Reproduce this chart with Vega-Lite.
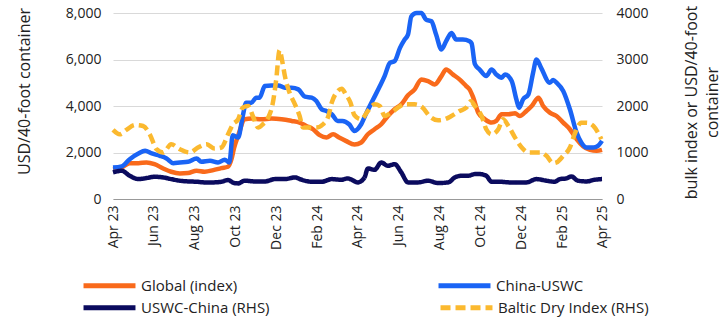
{
  "$schema": "https://vega.github.io/schema/vega-lite/v6.json",
  "width": 489,
  "height": 186,
  "autosize": {"type": "none"},
  "padding": {"left": 113, "top": 13, "right": 126, "bottom": 129},
  "background": "white",
  "config": {
    "font": "Open Sans",
    "view": {"stroke": null},
    "axis": {"labelFont": "Open Sans", "titleFont": "Open Sans", "labelColor": "#222", "titleColor": "#222", "titleFontWeight": "normal"},
    "legend": {"labelFont": "Open Sans"}
  },
  "datasets": {
    "left": [
      {"date":"2023-04-01","series":"Global (index)","value":1280},{"date":"2023-04-14","series":"Global (index)","value":1357},{"date":"2023-04-26","series":"Global (index)","value":1543},{"date":"2023-05-09","series":"Global (index)","value":1543},{"date":"2023-05-21","series":"Global (index)","value":1572},{"date":"2023-06-02","series":"Global (index)","value":1500},{"date":"2023-06-15","series":"Global (index)","value":1315},{"date":"2023-06-27","series":"Global (index)","value":1172},{"date":"2023-07-10","series":"Global (index)","value":1100},{"date":"2023-07-22","series":"Global (index)","value":1115},{"date":"2023-08-04","series":"Global (index)","value":1215},{"date":"2023-08-16","series":"Global (index)","value":1172},{"date":"2023-08-29","series":"Global (index)","value":1243},{"date":"2023-09-10","series":"Global (index)","value":1329},{"date":"2023-09-20","series":"Global (index)","value":1386},{"date":"2023-09-25","series":"Global (index)","value":1700},{"date":"2023-09-29","series":"Global (index)","value":2200},{"date":"2023-10-05","series":"Global (index)","value":2715},{"date":"2023-10-15","series":"Global (index)","value":3430},{"date":"2023-10-25","series":"Global (index)","value":3458},{"date":"2023-11-09","series":"Global (index)","value":3430},{"date":"2023-11-24","series":"Global (index)","value":3458},{"date":"2023-12-09","series":"Global (index)","value":3430},{"date":"2023-12-24","series":"Global (index)","value":3358},{"date":"2024-01-05","series":"Global (index)","value":3286},{"date":"2024-01-15","series":"Global (index)","value":3144},{"date":"2024-01-25","series":"Global (index)","value":3000},{"date":"2024-02-04","series":"Global (index)","value":2744},{"date":"2024-02-14","series":"Global (index)","value":2644},{"date":"2024-02-24","series":"Global (index)","value":2786},{"date":"2024-03-04","series":"Global (index)","value":2644},{"date":"2024-03-14","series":"Global (index)","value":2500},{"date":"2024-03-27","series":"Global (index)","value":2340},{"date":"2024-04-06","series":"Global (index)","value":2429},{"date":"2024-04-16","series":"Global (index)","value":2786},{"date":"2024-04-26","series":"Global (index)","value":3000},{"date":"2024-05-06","series":"Global (index)","value":3215},{"date":"2024-05-16","series":"Global (index)","value":3572},{"date":"2024-05-26","series":"Global (index)","value":3858},{"date":"2024-06-05","series":"Global (index)","value":4072},{"date":"2024-06-15","series":"Global (index)","value":4458},{"date":"2024-06-25","series":"Global (index)","value":4715},{"date":"2024-07-05","series":"Global (index)","value":5144},{"date":"2024-07-15","series":"Global (index)","value":5072},{"date":"2024-07-25","series":"Global (index)","value":4929},{"date":"2024-08-04","series":"Global (index)","value":5287},{"date":"2024-08-11","series":"Global (index)","value":5572},{"date":"2024-08-21","series":"Global (index)","value":5358},{"date":"2024-08-31","series":"Global (index)","value":5144},{"date":"2024-09-10","series":"Global (index)","value":4858},{"date":"2024-09-15","series":"Global (index)","value":4715},{"date":"2024-09-20","series":"Global (index)","value":4400},{"date":"2024-09-28","series":"Global (index)","value":3715},{"date":"2024-10-08","series":"Global (index)","value":3430},{"date":"2024-10-18","series":"Global (index)","value":3286},{"date":"2024-10-25","series":"Global (index)","value":3358},{"date":"2024-11-02","series":"Global (index)","value":3644},{"date":"2024-11-12","series":"Global (index)","value":3644},{"date":"2024-11-22","series":"Global (index)","value":3687},{"date":"2024-11-29","series":"Global (index)","value":3572},{"date":"2024-12-09","series":"Global (index)","value":3787},{"date":"2024-12-17","series":"Global (index)","value":4001},{"date":"2024-12-27","series":"Global (index)","value":4358},{"date":"2025-01-03","series":"Global (index)","value":4001},{"date":"2025-01-13","series":"Global (index)","value":3715},{"date":"2025-01-23","series":"Global (index)","value":3572},{"date":"2025-02-02","series":"Global (index)","value":3286},{"date":"2025-02-12","series":"Global (index)","value":3000},{"date":"2025-02-22","series":"Global (index)","value":2572},{"date":"2025-03-04","series":"Global (index)","value":2258},{"date":"2025-03-14","series":"Global (index)","value":2115},{"date":"2025-03-24","series":"Global (index)","value":2072},{"date":"2025-04-01","series":"Global (index)","value":2115},
      {"date":"2023-04-01","series":"China-USWC","value":1350},{"date":"2023-04-14","series":"China-USWC","value":1400},{"date":"2023-04-26","series":"China-USWC","value":1714},{"date":"2023-05-09","series":"China-USWC","value":1958},{"date":"2023-05-19","series":"China-USWC","value":2072},{"date":"2023-05-29","series":"China-USWC","value":1958},{"date":"2023-06-10","series":"China-USWC","value":1857},{"date":"2023-06-20","series":"China-USWC","value":1743},{"date":"2023-06-30","series":"China-USWC","value":1543},{"date":"2023-07-10","series":"China-USWC","value":1572},{"date":"2023-07-22","series":"China-USWC","value":1600},{"date":"2023-08-04","series":"China-USWC","value":1743},{"date":"2023-08-11","series":"China-USWC","value":1600},{"date":"2023-08-24","series":"China-USWC","value":1643},{"date":"2023-09-05","series":"China-USWC","value":1572},{"date":"2023-09-15","series":"China-USWC","value":1686},{"date":"2023-09-22","series":"China-USWC","value":1572},{"date":"2023-09-27","series":"China-USWC","value":2744},{"date":"2023-10-05","series":"China-USWC","value":2644},{"date":"2023-10-12","series":"China-USWC","value":3572},{"date":"2023-10-17","series":"China-USWC","value":4144},{"date":"2023-10-25","series":"China-USWC","value":4144},{"date":"2023-11-01","series":"China-USWC","value":4358},{"date":"2023-11-06","series":"China-USWC","value":4358},{"date":"2023-11-14","series":"China-USWC","value":4858},{"date":"2023-11-24","series":"China-USWC","value":4887},{"date":"2023-12-04","series":"China-USWC","value":4887},{"date":"2023-12-14","series":"China-USWC","value":4787},{"date":"2023-12-24","series":"China-USWC","value":4787},{"date":"2024-01-03","series":"China-USWC","value":4715},{"date":"2024-01-13","series":"China-USWC","value":4401},{"date":"2024-01-23","series":"China-USWC","value":4358},{"date":"2024-01-30","series":"China-USWC","value":4215},{"date":"2024-02-07","series":"China-USWC","value":3858},{"date":"2024-02-14","series":"China-USWC","value":3787},{"date":"2024-02-22","series":"China-USWC","value":3644},{"date":"2024-03-02","series":"China-USWC","value":3358},{"date":"2024-03-09","series":"China-USWC","value":3358},{"date":"2024-03-19","series":"China-USWC","value":3215},{"date":"2024-03-27","series":"China-USWC","value":2929},{"date":"2024-04-06","series":"China-USWC","value":3215},{"date":"2024-04-14","series":"China-USWC","value":3715},{"date":"2024-04-24","series":"China-USWC","value":4287},{"date":"2024-05-04","series":"China-USWC","value":4858},{"date":"2024-05-11","series":"China-USWC","value":5287},{"date":"2024-05-19","series":"China-USWC","value":5858},{"date":"2024-05-26","series":"China-USWC","value":5929},{"date":"2024-06-03","series":"China-USWC","value":6501},{"date":"2024-06-10","series":"China-USWC","value":6858},{"date":"2024-06-15","series":"China-USWC","value":7073},{"date":"2024-06-20","series":"China-USWC","value":7858},{"date":"2024-06-28","series":"China-USWC","value":8000},{"date":"2024-07-05","series":"China-USWC","value":8000},{"date":"2024-07-12","series":"China-USWC","value":7716},{"date":"2024-07-20","series":"China-USWC","value":7644},{"date":"2024-07-27","series":"China-USWC","value":7073},{"date":"2024-08-04","series":"China-USWC","value":6430},{"date":"2024-08-11","series":"China-USWC","value":6787},{"date":"2024-08-19","series":"China-USWC","value":7144},{"date":"2024-08-26","series":"China-USWC","value":6858},{"date":"2024-09-05","series":"China-USWC","value":6858},{"date":"2024-09-15","series":"China-USWC","value":6787},{"date":"2024-09-18","series":"China-USWC","value":6700},{"date":"2024-09-23","series":"China-USWC","value":5800},{"date":"2024-09-30","series":"China-USWC","value":5572},{"date":"2024-10-10","series":"China-USWC","value":5287},{"date":"2024-10-18","series":"China-USWC","value":5572},{"date":"2024-10-25","series":"China-USWC","value":5358},{"date":"2024-11-02","series":"China-USWC","value":5215},{"date":"2024-11-07","series":"China-USWC","value":5358},{"date":"2024-11-17","series":"China-USWC","value":5072},{"date":"2024-11-24","series":"China-USWC","value":4287},{"date":"2024-11-28","series":"China-USWC","value":3929},{"date":"2024-12-04","series":"China-USWC","value":4287},{"date":"2024-12-12","series":"China-USWC","value":4501},{"date":"2024-12-19","series":"China-USWC","value":5430},{"date":"2024-12-24","series":"China-USWC","value":6001},{"date":"2024-12-31","series":"China-USWC","value":5644},{"date":"2025-01-13","series":"China-USWC","value":5001},{"date":"2025-01-18","series":"China-USWC","value":5116},{"date":"2025-01-23","series":"China-USWC","value":5001},{"date":"2025-02-02","series":"China-USWC","value":4644},{"date":"2025-02-12","series":"China-USWC","value":3858},{"date":"2025-02-22","series":"China-USWC","value":2858},{"date":"2025-03-01","series":"China-USWC","value":2429},{"date":"2025-03-09","series":"China-USWC","value":2215},{"date":"2025-03-19","series":"China-USWC","value":2215},{"date":"2025-03-26","series":"China-USWC","value":2286},{"date":"2025-04-01","series":"China-USWC","value":2500}
    ],
    "right": [
      {"date":"2023-04-01","series":"USWC-China (RHS)","value":571},{"date":"2023-04-14","series":"USWC-China (RHS)","value":607},{"date":"2023-04-26","series":"USWC-China (RHS)","value":500},{"date":"2023-05-09","series":"USWC-China (RHS)","value":428},{"date":"2023-05-21","series":"USWC-China (RHS)","value":450},{"date":"2023-06-02","series":"USWC-China (RHS)","value":478},{"date":"2023-06-15","series":"USWC-China (RHS)","value":464},{"date":"2023-06-27","series":"USWC-China (RHS)","value":428},{"date":"2023-07-10","series":"USWC-China (RHS)","value":393},{"date":"2023-07-22","series":"USWC-China (RHS)","value":378},{"date":"2023-08-04","series":"USWC-China (RHS)","value":371},{"date":"2023-08-16","series":"USWC-China (RHS)","value":357},{"date":"2023-08-29","series":"USWC-China (RHS)","value":357},{"date":"2023-09-10","series":"USWC-China (RHS)","value":371},{"date":"2023-09-20","series":"USWC-China (RHS)","value":407},{"date":"2023-09-29","series":"USWC-China (RHS)","value":343},{"date":"2023-10-05","series":"USWC-China (RHS)","value":336},{"date":"2023-10-15","series":"USWC-China (RHS)","value":393},{"date":"2023-10-30","series":"USWC-China (RHS)","value":378},{"date":"2023-11-14","series":"USWC-China (RHS)","value":378},{"date":"2023-11-29","series":"USWC-China (RHS)","value":428},{"date":"2023-12-14","series":"USWC-China (RHS)","value":428},{"date":"2023-12-29","series":"USWC-China (RHS)","value":464},{"date":"2024-01-08","series":"USWC-China (RHS)","value":414},{"date":"2024-01-23","series":"USWC-China (RHS)","value":371},{"date":"2024-02-07","series":"USWC-China (RHS)","value":371},{"date":"2024-02-22","series":"USWC-China (RHS)","value":428},{"date":"2024-03-07","series":"USWC-China (RHS)","value":414},{"date":"2024-03-17","series":"USWC-China (RHS)","value":443},{"date":"2024-03-22","series":"USWC-China (RHS)","value":420},{"date":"2024-04-01","series":"USWC-China (RHS)","value":357},{"date":"2024-04-11","series":"USWC-China (RHS)","value":464},{"date":"2024-04-16","series":"USWC-China (RHS)","value":657},{"date":"2024-04-26","series":"USWC-China (RHS)","value":628},{"date":"2024-05-06","series":"USWC-China (RHS)","value":785},{"date":"2024-05-16","series":"USWC-China (RHS)","value":714},{"date":"2024-05-26","series":"USWC-China (RHS)","value":750},{"date":"2024-06-05","series":"USWC-China (RHS)","value":571},{"date":"2024-06-15","series":"USWC-China (RHS)","value":357},{"date":"2024-06-30","series":"USWC-China (RHS)","value":357},{"date":"2024-07-15","series":"USWC-China (RHS)","value":393},{"date":"2024-07-30","series":"USWC-China (RHS)","value":343},{"date":"2024-08-14","series":"USWC-China (RHS)","value":357},{"date":"2024-08-24","series":"USWC-China (RHS)","value":464},{"date":"2024-09-03","series":"USWC-China (RHS)","value":500},{"date":"2024-09-13","series":"USWC-China (RHS)","value":500},{"date":"2024-09-23","series":"USWC-China (RHS)","value":536},{"date":"2024-09-30","series":"USWC-China (RHS)","value":536},{"date":"2024-10-10","series":"USWC-China (RHS)","value":500},{"date":"2024-10-18","series":"USWC-China (RHS)","value":371},{"date":"2024-10-30","series":"USWC-China (RHS)","value":371},{"date":"2024-11-14","series":"USWC-China (RHS)","value":357},{"date":"2024-11-29","series":"USWC-China (RHS)","value":357},{"date":"2024-12-09","series":"USWC-China (RHS)","value":357},{"date":"2024-12-24","series":"USWC-China (RHS)","value":428},{"date":"2025-01-08","series":"USWC-China (RHS)","value":393},{"date":"2025-01-20","series":"USWC-China (RHS)","value":371},{"date":"2025-01-28","series":"USWC-China (RHS)","value":428},{"date":"2025-02-07","series":"USWC-China (RHS)","value":443},{"date":"2025-02-14","series":"USWC-China (RHS)","value":486},{"date":"2025-02-24","series":"USWC-China (RHS)","value":393},{"date":"2025-03-09","series":"USWC-China (RHS)","value":378},{"date":"2025-03-21","series":"USWC-China (RHS)","value":414},{"date":"2025-04-01","series":"USWC-China (RHS)","value":428},
      {"date":"2023-04-01","series":"Baltic Dry Index (RHS)","value":1485},{"date":"2023-04-11","series":"Baltic Dry Index (RHS)","value":1392},{"date":"2023-04-21","series":"Baltic Dry Index (RHS)","value":1485},{"date":"2023-05-04","series":"Baltic Dry Index (RHS)","value":1592},{"date":"2023-05-16","series":"Baltic Dry Index (RHS)","value":1571},{"date":"2023-05-26","series":"Baltic Dry Index (RHS)","value":1392},{"date":"2023-06-05","series":"Baltic Dry Index (RHS)","value":1071},{"date":"2023-06-15","series":"Baltic Dry Index (RHS)","value":1000},{"date":"2023-06-27","series":"Baltic Dry Index (RHS)","value":1178},{"date":"2023-07-10","series":"Baltic Dry Index (RHS)","value":1071},{"date":"2023-07-25","series":"Baltic Dry Index (RHS)","value":1000},{"date":"2023-08-06","series":"Baltic Dry Index (RHS)","value":1107},{"date":"2023-08-19","series":"Baltic Dry Index (RHS)","value":1178},{"date":"2023-08-31","series":"Baltic Dry Index (RHS)","value":1085},{"date":"2023-09-10","series":"Baltic Dry Index (RHS)","value":1107},{"date":"2023-09-20","series":"Baltic Dry Index (RHS)","value":1392},{"date":"2023-09-27","series":"Baltic Dry Index (RHS)","value":1600},{"date":"2023-10-05","series":"Baltic Dry Index (RHS)","value":1714},{"date":"2023-10-12","series":"Baltic Dry Index (RHS)","value":1964},{"date":"2023-10-20","series":"Baltic Dry Index (RHS)","value":1999},{"date":"2023-10-27","series":"Baltic Dry Index (RHS)","value":1785},{"date":"2023-11-04","series":"Baltic Dry Index (RHS)","value":1535},{"date":"2023-11-11","series":"Baltic Dry Index (RHS)","value":1607},{"date":"2023-11-19","series":"Baltic Dry Index (RHS)","value":1749},{"date":"2023-11-26","series":"Baltic Dry Index (RHS)","value":2071},{"date":"2023-12-01","series":"Baltic Dry Index (RHS)","value":2571},{"date":"2023-12-06","series":"Baltic Dry Index (RHS)","value":3200},{"date":"2023-12-10","series":"Baltic Dry Index (RHS)","value":2963},{"date":"2023-12-14","series":"Baltic Dry Index (RHS)","value":2642},{"date":"2023-12-21","series":"Baltic Dry Index (RHS)","value":2285},{"date":"2023-12-29","series":"Baltic Dry Index (RHS)","value":2035},{"date":"2024-01-05","series":"Baltic Dry Index (RHS)","value":1785},{"date":"2024-01-10","series":"Baltic Dry Index (RHS)","value":1535},{"date":"2024-01-20","series":"Baltic Dry Index (RHS)","value":1535},{"date":"2024-01-30","series":"Baltic Dry Index (RHS)","value":1535},{"date":"2024-02-09","series":"Baltic Dry Index (RHS)","value":1607},{"date":"2024-02-17","series":"Baltic Dry Index (RHS)","value":1785},{"date":"2024-02-22","series":"Baltic Dry Index (RHS)","value":2071},{"date":"2024-03-02","series":"Baltic Dry Index (RHS)","value":2321},{"date":"2024-03-08","series":"Baltic Dry Index (RHS)","value":2370},{"date":"2024-03-14","series":"Baltic Dry Index (RHS)","value":2250},{"date":"2024-03-21","series":"Baltic Dry Index (RHS)","value":2071},{"date":"2024-03-27","series":"Baltic Dry Index (RHS)","value":1800},{"date":"2024-04-06","series":"Baltic Dry Index (RHS)","value":1714},{"date":"2024-04-16","series":"Baltic Dry Index (RHS)","value":1892},{"date":"2024-04-26","series":"Baltic Dry Index (RHS)","value":2035},{"date":"2024-05-04","series":"Baltic Dry Index (RHS)","value":1999},{"date":"2024-05-11","series":"Baltic Dry Index (RHS)","value":1785},{"date":"2024-05-21","series":"Baltic Dry Index (RHS)","value":1857},{"date":"2024-05-31","series":"Baltic Dry Index (RHS)","value":1964},{"date":"2024-06-10","series":"Baltic Dry Index (RHS)","value":2035},{"date":"2024-06-25","series":"Baltic Dry Index (RHS)","value":2035},{"date":"2024-07-07","series":"Baltic Dry Index (RHS)","value":1964},{"date":"2024-07-17","series":"Baltic Dry Index (RHS)","value":1785},{"date":"2024-07-30","series":"Baltic Dry Index (RHS)","value":1692},{"date":"2024-08-09","series":"Baltic Dry Index (RHS)","value":1714},{"date":"2024-08-19","series":"Baltic Dry Index (RHS)","value":1785},{"date":"2024-08-31","series":"Baltic Dry Index (RHS)","value":1892},{"date":"2024-09-10","series":"Baltic Dry Index (RHS)","value":1964},{"date":"2024-09-17","series":"Baltic Dry Index (RHS)","value":2100},{"date":"2024-09-23","series":"Baltic Dry Index (RHS)","value":1999},{"date":"2024-10-03","series":"Baltic Dry Index (RHS)","value":1785},{"date":"2024-10-10","series":"Baltic Dry Index (RHS)","value":1500},{"date":"2024-10-18","series":"Baltic Dry Index (RHS)","value":1392},{"date":"2024-10-28","series":"Baltic Dry Index (RHS)","value":1500},{"date":"2024-11-04","series":"Baltic Dry Index (RHS)","value":1714},{"date":"2024-11-12","series":"Baltic Dry Index (RHS)","value":1571},{"date":"2024-11-22","series":"Baltic Dry Index (RHS)","value":1321},{"date":"2024-12-02","series":"Baltic Dry Index (RHS)","value":1107},{"date":"2024-12-12","series":"Baltic Dry Index (RHS)","value":1000},{"date":"2024-12-22","series":"Baltic Dry Index (RHS)","value":1000},{"date":"2024-12-31","series":"Baltic Dry Index (RHS)","value":1000},{"date":"2025-01-08","series":"Baltic Dry Index (RHS)","value":928},{"date":"2025-01-18","series":"Baltic Dry Index (RHS)","value":771},{"date":"2025-01-23","series":"Baltic Dry Index (RHS)","value":786},{"date":"2025-02-02","series":"Baltic Dry Index (RHS)","value":928},{"date":"2025-02-12","series":"Baltic Dry Index (RHS)","value":1107},{"date":"2025-02-19","series":"Baltic Dry Index (RHS)","value":1392},{"date":"2025-03-01","series":"Baltic Dry Index (RHS)","value":1642},{"date":"2025-03-09","series":"Baltic Dry Index (RHS)","value":1642},{"date":"2025-03-19","series":"Baltic Dry Index (RHS)","value":1571},{"date":"2025-03-26","series":"Baltic Dry Index (RHS)","value":1428},{"date":"2025-03-31","series":"Baltic Dry Index (RHS)","value":1285}
    ]
  },
  "encoding": {
    "x": {
      "field": "date",
      "type": "temporal",
      "scale": {"type": "utc", "domain": [{"year": 2023, "month": 4, "date": 1, "utc": true}, {"year": 2025, "month": 4, "date": 1, "utc": true}]},
      "axis": {
        "title": null,
        "values": [
          {"year": 2023, "month": 4, "date": 1, "utc": true}, {"year": 2023, "month": 6, "date": 1, "utc": true}, {"year": 2023, "month": 8, "date": 1, "utc": true}, {"year": 2023, "month": 10, "date": 1, "utc": true}, {"year": 2023, "month": 12, "date": 1, "utc": true},
          {"year": 2024, "month": 2, "date": 1, "utc": true}, {"year": 2024, "month": 4, "date": 1, "utc": true}, {"year": 2024, "month": 6, "date": 1, "utc": true}, {"year": 2024, "month": 8, "date": 1, "utc": true}, {"year": 2024, "month": 10, "date": 1, "utc": true}, {"year": 2024, "month": 12, "date": 1, "utc": true},
          {"year": 2025, "month": 2, "date": 1, "utc": true}, {"year": 2025, "month": 4, "date": 1, "utc": true}
        ],
        "labelExpr": "utcFormat(datum.value, '%b %y')",
        "labelAngle": -90,
        "labelFontSize": 14,
        "labelPadding": 6,
        "ticks": false,
        "grid": false,
        "domainColor": "#999999",
        "domainWidth": 1,
        "labelOverlap": false,
        "labelBound": false,
        "labelFlush": false
      }
    }
  },
  "layer": [
    {
      "data": {"name": "left"},
      "mark": {"type": "line", "strokeWidth": 4.5, "interpolate": "monotone"},
      "encoding": {
        "y": {
          "field": "value",
          "type": "quantitative",
          "scale": {"domain": [0, 8000], "nice": false},
          "axis": {
            "title": "USD/40-foot container",
            "titleFontSize": 16,
            "titlePadding": 33,
            "titleY": 78,
            "values": [0, 2000, 4000, 6000, 8000],
            "format": ",.0f",
            "labelFontSize": 14,
            "labelPadding": 12,
            "ticks": false,
            "domain": false,
            "gridColor": "#d9d9d9",
            "gridWidth": 1
          }
        },
        "color": {
          "field": "series",
          "type": "nominal",
          "scale": {"domain": ["Global (index)", "China-USWC"], "range": ["#F96A1B", "#1A64F5"]},
          "legend": {
            "title": null,
            "orient": "none",
            "direction": "horizontal",
            "legendX": -32,
            "legendY": 244,
            "columnPadding": 190,
            "symbolType": "stroke",
            "symbolSize": 2700,
            "symbolStrokeWidth": 5,
            "labelFontSize": 15,
            "labelColor": "#222",
            "labelOffset": 3
          }
        }
      }
    },
    {
      "data": {"name": "right"},
      "mark": {"type": "line", "strokeWidth": 4.5, "interpolate": "monotone"},
      "encoding": {
        "y": {
          "field": "value",
          "type": "quantitative",
          "scale": {"domain": [0, 4000], "nice": false},
          "axis": {
            "orient": "right",
            "title": ["bulk index or USD/40-foot", "container"],
            "titleAngle": -90,
            "titleFontSize": 16,
            "titleLineHeight": 21,
            "titlePadding": 30,
            "titleY": 89,
            "values": [0, 1000, 2000, 3000, 4000],
            "format": "d",
            "labelFontSize": 14,
            "labelPadding": 14,
            "ticks": false,
            "domain": false,
            "grid": false
          }
        },
        "color": {
          "field": "series",
          "type": "nominal",
          "scale": {"domain": ["USWC-China (RHS)", "Baltic Dry Index (RHS)"], "range": ["#0B0B5E", "#FBB92F"]},
          "legend": {
            "title": null,
            "orient": "none",
            "direction": "horizontal",
            "legendX": -32,
            "legendY": 266,
            "columnPadding": 160,
            "symbolType": "stroke",
            "symbolSize": 2700,
            "symbolStrokeWidth": 5,
            "labelFontSize": 15,
            "labelColor": "#222",
            "labelOffset": 3
          }
        },
        "strokeDash": {
          "field": "series",
          "type": "nominal",
          "scale": {"domain": ["USWC-China (RHS)", "Baltic Dry Index (RHS)"], "range": [[1, 0], [10, 5]]}
        }
      }
    }
  ],
  "resolve": {"scale": {"y": "independent", "color": "independent", "strokeDash": "independent"}}
}
